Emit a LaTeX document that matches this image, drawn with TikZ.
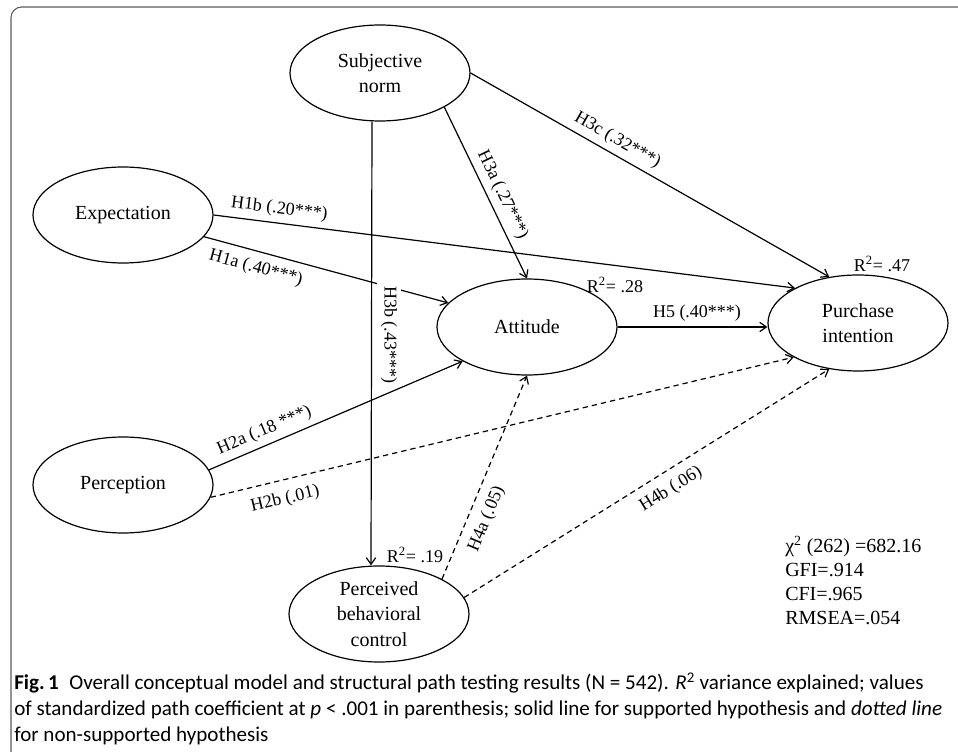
\documentclass[tikz,border=0pt]{standalone}
\usepackage{fontspec}
\setmainfont{Liberation Serif}
\newfontfamily\capfont{Carlito}
\usepackage{tikz}
\usetikzlibrary{arrows.meta, positioning}
\usetikzlibrary{shapes.geometric}

\begin{document}
\begin{tikzpicture}[
		x=0.75pt, y=-0.75pt,
		every node/.style={font=\fontsize{13.5}{16}\selectfont},
		latent/.style={
			ellipse,
			draw,
			line width=0.9pt,
			align=center,
			minimum width=135pt,
			minimum height=72pt,
			inner sep=0pt,
			font=\fontsize{15}{19}\selectfont
		},
		arrow/.style={
			-{Straight Barb[length=5pt,width=7pt]},
			line width=0.9pt
		},
		nsarrow/.style={
			arrow,
			dash pattern=on 4pt off 3pt
		},
		plabel/.style={sloped, inner sep=3pt},
		rsq/.style={inner sep=0pt},
		boxframe/.style={draw=black!65, line width=0.8pt, rounded corners=8pt}
		]
		
		\useasboundingbox (0,0) rectangle (958,752);
		\draw[boxframe] (958,7) -| (11,752);
		
		% Nodes
		\node[latent] (subj) at (380,73) {Subjective\\norm};
		\node[latent] (expect) at (123,215) {Expectation};
		\node[latent] (percep) at (123,485) {Perception};
		\node[latent] (attit) at (527,327) {Attitude};
		\node[latent] (purint) at (858,323) {Purchase\\intention};
		\node[latent] (pbc) at (379,614) {Perceived\\behavioral\\control};
		
		% R squared
		\node[rsq] (r2att) at (615,285) {R\textsuperscript{2}= .28};
		\node[rsq] (r2pi) at (882,264) {R\textsuperscript{2}= .47};
		\node[rsq] (r2pbc) at (415,555) {R\textsuperscript{2}= .19};
		
		% Arrows (supported)
		\draw[arrow] (expect.east) -- node[plabel, above=1pt, pos=0.11] {H1b (.20***)} (purint.151);
		\draw[arrow] (expect.-15) -- node[plabel, below=3pt, pos=0.23] {H1a (.40***)} (attit.163);
		\draw[arrow] (percep.10) -- node[plabel, above=1pt, pos=0.24] {H2a (.18 ***)} (attit.208);
		\draw[arrow] (subj.-28) -- node[plabel, above=1pt, pos=0.55] {H3a (.27***)} (attit.north);
		\draw[arrow] (subj.east) -- node[plabel, above=1pt, pos=0.39] {H3c (.32***)} (purint.122);
		\draw[arrow] (attit.east) -- node[plabel, above=1pt, pos=0.53] {H5 (.40***)} (attit.east -| purint.west);
		
		% Arrows (not supported)
		\draw[nsarrow] (percep.-8) -- node[plabel, below=5pt, pos=0.12] {H2b (.01)} (purint.208);
		\draw[nsarrow] (pbc.29) -- node[plabel, below=4pt, pos=0.33] {H4a (.05)} (attit.south);
		\draw[nsarrow] (pbc.11) -- node[plabel, below=4pt, pos=0.54] {H4b (.06)} (purint.238);
		
		% H3b last, its label covers H1a and H2a
		\draw[arrow] ([xshift=-6pt]subj.south) -- node[pos=0.48, rotate=-90, anchor=south, outer sep=4pt, inner sep=3pt, fill=white] {H3b (.43***)} ([xshift=-6pt]pbc.north);
		
		% Fit indices
		\node[anchor=north west, align=left, inner sep=0pt, font=\fontsize{15}{18}\selectfont] (fit) at (785,536)
		{χ\textsuperscript{2} (262) =682.16\\GFI=.914\\CFI=.965\\RMSEA=.054};
		
		% Caption
		\node[anchor=north west, align=left, inner sep=0pt, font=\capfont\fontsize{15.8}{19.5}\selectfont] (cap) at (14,673)
		{\textbf{Fig.\,1}\enspace Overall conceptual model and structural path testing results (N = 542). \textit{R}\textsuperscript{2} variance explained; values\\
			of standardized path coefficient at \textit{p} < .001 in parenthesis; solid line for supported hypothesis and \textit{dotted line}\\
			for non-supported hypothesis};
		
\end{tikzpicture}
\end{document}
